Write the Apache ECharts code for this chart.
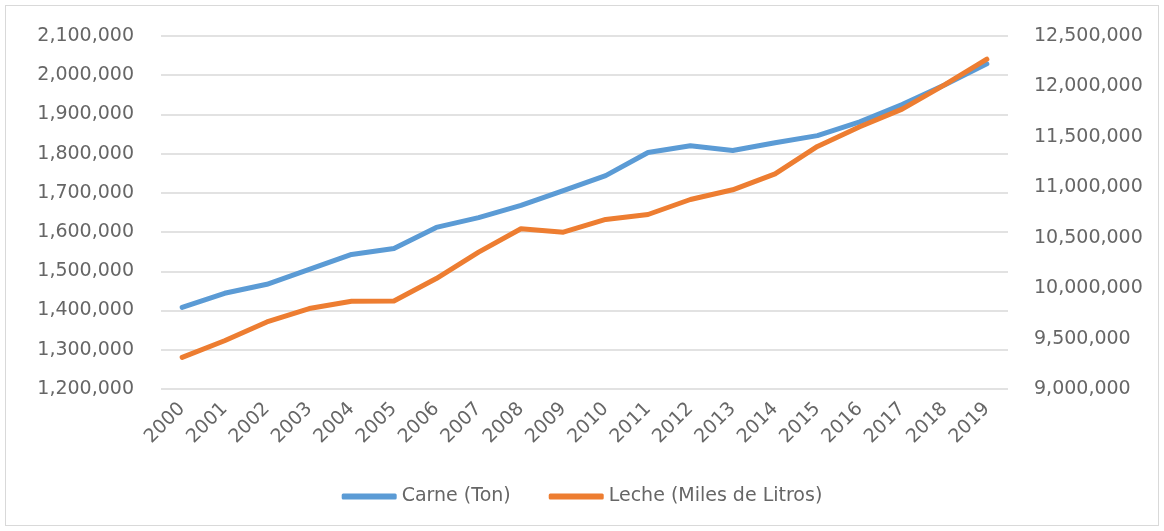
<!DOCTYPE html>
<html>
<head>
<meta charset="utf-8">
<script src="https://cdn.jsdelivr.net/npm/echarts@6/dist/echarts.min.js"></script>
<style>
  html, body { margin: 0; padding: 0; background: #fff; }
  #chart { position: absolute; left: 5px; top: 5px; width: 1152px; height: 519px; border: 1px solid #d9d9d9; }
</style>
</head>
<body>
<div id="chart"></div>
<script>
const years = ["2000", "2001", "2002", "2003", "2004", "2005", "2006", "2007", "2008", "2009",
  "2010", "2011", "2012", "2013", "2014", "2015", "2016", "2017", "2018", "2019"];
const carne = [1408000, 1444000, 1467000, 1505000, 1543000, 1558000, 1612000, 1637000, 1668000, 1706000,
  1744000, 1803000, 1820000, 1808000, 1828000, 1846000, 1881000, 1925000, 1975000, 2029000];
const leche = [9313000, 9478000, 9665000, 9798000, 9870000, 9872000, 10095000, 10357000, 10589000, 10555000,
  10681000, 10730000, 10879000, 10975000, 11133000, 11405000, 11600000, 11775000, 12015000, 12270000];
const seriesNames = ["Carne (Ton)", "Leche (Miles de Litros)"];

const fmt = (v) => v.toLocaleString("en-US");
const font = "'DejaVu Sans', sans-serif";
const grey = "#666666";

const chart = echarts.init(document.getElementById("chart"));
chart.setOption({
  animation: false,
  color: ["#5b9bd5", "#ed7d31"],
  textStyle: { fontFamily: font },
  grid: { left: 155, right: 150, top: 30, bottom: 136 },
  legend: {
    bottom: 14,
    left: "center",
    itemWidth: 55,
    itemHeight: 6,
    itemGap: 38,
    icon: "roundRect",
    textStyle: { color: grey, fontSize: 19, fontFamily: font },
    data: seriesNames,
  },
  xAxis: {
    type: "category",
    data: years,
    boundaryGap: true,
    axisLine: { show: false },
    axisTick: { show: false },
    axisLabel: { rotate: 45, color: grey, fontSize: 19, margin: 17, interval: 0 },
  },
  yAxis: [
    {
      type: "value",
      min: 1200000,
      max: 2100000,
      interval: 100000,
      axisLine: { show: false },
      axisTick: { show: false },
      axisLabel: { color: grey, fontSize: 19, margin: 27, formatter: fmt },
      splitLine: { lineStyle: { color: "#d9d9d9", width: 1.5 } },
    },
    {
      type: "value",
      min: 9000000,
      max: 12500000,
      interval: 500000,
      axisLine: { show: false },
      axisTick: { show: false },
      axisLabel: { color: grey, fontSize: 19, margin: 26, formatter: fmt },
      splitLine: { show: false },
    },
  ],
  series: [
    {
      name: seriesNames[0],
      type: "line",
      data: carne,
      symbol: "none",
      lineStyle: { width: 5, cap: "round", join: "round" },
    },
    {
      name: seriesNames[1],
      type: "line",
      yAxisIndex: 1,
      data: leche,
      symbol: "none",
      lineStyle: { width: 5, cap: "round", join: "round" },
    },
  ],
});
</script>
</body>
</html>
